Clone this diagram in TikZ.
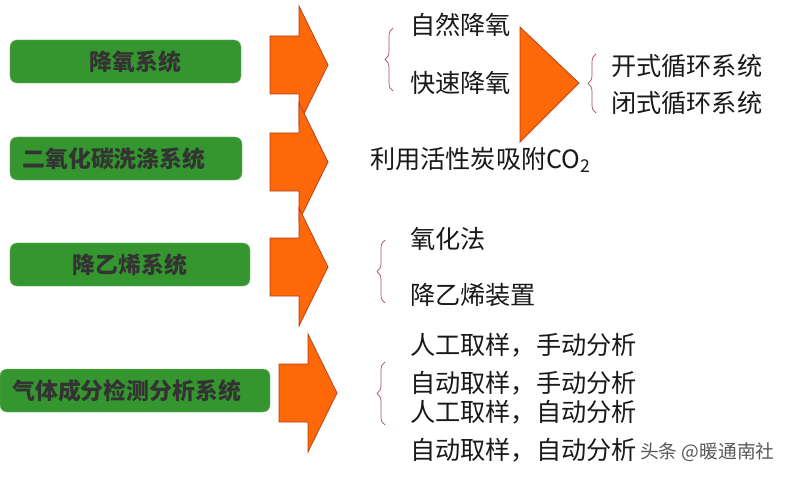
\documentclass[tikz,border=0pt]{standalone}
\usepackage{fontspec}
\setmainfont{Noto Sans CJK SC}
\usetikzlibrary{decorations.pathreplacing}
\definecolor{boxgreen}{RGB}{53,150,47}
\definecolor{arroworange}{RGB}{255,104,8}
\definecolor{arrowedge}{RGB}{180,60,25}
\definecolor{bracered}{RGB}{165,75,85}
\begin{document}
\begin{tikzpicture}[x=0.03cm,y=-0.03cm,
  sysbox/.style={draw=boxgreen!70!white, fill=boxgreen, rounded corners=6pt, inner sep=0pt,
    minimum height=1.29cm, font=\fontsize{19.5}{22}\selectfont\bfseries, text=black!80},
  itemtext/.style={anchor=west, inner sep=0pt, font=\fontsize{21.5}{24}\selectfont, text=black!90},
  blockarrow/.style={fill=arroworange, draw=arrowedge, line width=0.6pt},
  bracebar/.style={draw=bracered, line width=0.6pt, decorate, decoration={brace, amplitude=0.24cm}}]
\useasboundingbox[fill=white] (0,0) rectangle (800,479);
% system boxes:
\node[sysbox, minimum width=6.93cm] (deox) at (125.5,61.5) {\rule{0.6cm}{0pt}降氧系统};
\node[sysbox, minimum width=6.96cm] (coscrub) at (126,158.5) {二氧化碳洗涤系统\rule{0.72cm}{0pt}};
\node[sysbox, minimum width=7.2cm] (deeth) at (130,264.5) {降乙烯系统};
\node[sysbox, minimum width=8.1cm] (gasan) at (135,390.5) {气体成分检测分析系统\rule{0.5cm}{0pt}};
% arrows:
\foreach \x/\c in {270/65,270/162,270/267,279/393}
  \draw[blockarrow] (\x,\c-29) -- (\x+29,\c-29) -- (\x+29,\c-59) -- (\x+58,\c)
    -- (\x+29,\c+59) -- (\x+29,\c+29) -- (\x,\c+29) -- cycle;
\draw[blockarrow] (520,27) -- (579,83) -- (520,142) -- cycle;
% deoxygenation:
\node[itemtext] (natural) at (410,25) {自然降氧};
\node[itemtext] (fast) at (410,83) {快速降氧};
\node[itemtext] (open) at (611,66) {开式循环系统};
\node[itemtext] (closed) at (611,103) {闭式循环系统};
\draw[bracebar] (393,91) -- (393,28);
\draw[bracebar] (596,113) -- (596,54);
% CO2:
\node[itemtext] (carbon) at (370,160) {利用活性炭吸附CO\textsubscript{2}};
% ethylene:
\node[itemtext] (oxid) at (410,239) {氧化法};
\node[itemtext] (device) at (410,295) {降乙烯装置};
\draw[bracebar] (385,303) -- (385,240);
% analysis:
\node[itemtext] (mm) at (410,345) {人工取样，手动分析};
\node[itemtext] (am) at (410,383) {自动取样，手动分析};
\node[itemtext] (ma) at (410,412) {人工取样，自动分析};
\node[itemtext] (aa) at (410,450) {自动取样，自动分析};
\draw[bracebar] (385,425) -- (385,362);
\node[anchor=west, inner sep=0pt, font=\fontsize{16}{18}\selectfont, text=black!65] (wmtext) at (640,452) {头条 @暖通南社};
\end{tikzpicture}
\end{document}
